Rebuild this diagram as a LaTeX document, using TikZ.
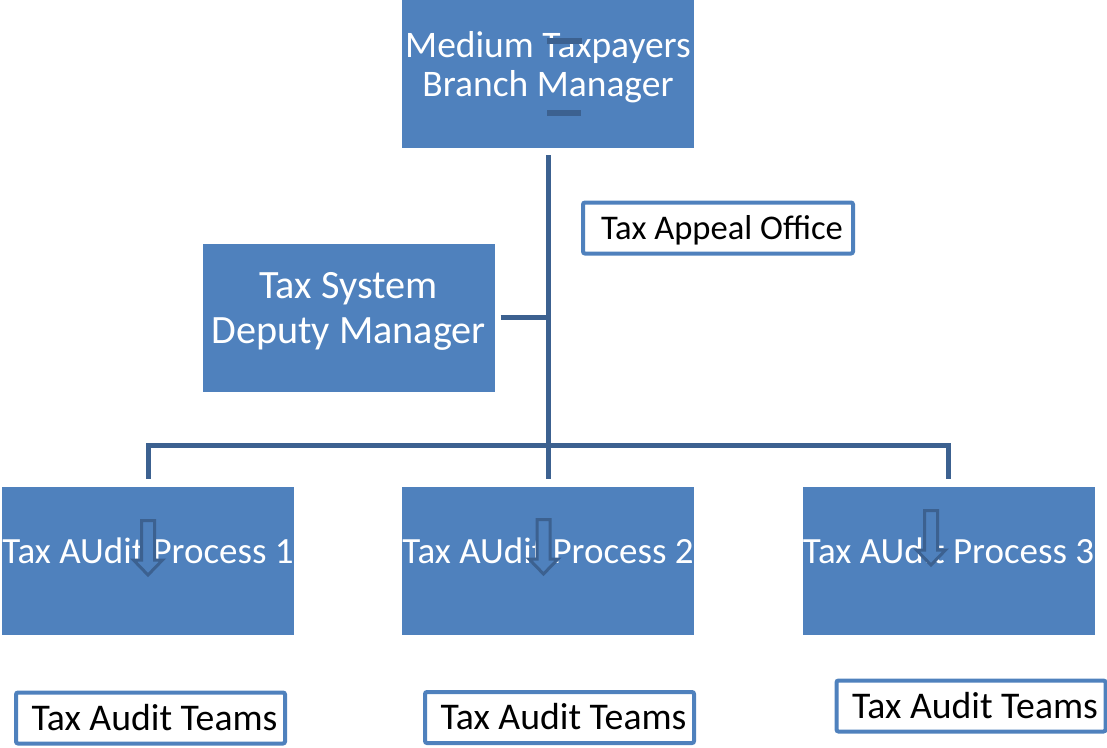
\documentclass[tikz,border=0pt]{standalone}
\usepackage{fontspec}
\setmainfont{Carlito}
\usetikzlibrary{calc}
\definecolor{boxblue}{HTML}{4F81BD}
\definecolor{linkblue}{HTML}{3C6190}

\begin{document}
\begin{tikzpicture}[x=1pt, y=-1pt,
    unit/.style={rectangle, fill=boxblue, minimum width=292pt, minimum height=148pt, inner sep=0pt,
        text=white, align=center, text depth=20pt},
    office/.style={rectangle, draw=boxblue, line width=4pt, rounded corners=2pt, fill=white,
        minimum width=269pt, minimum height=51pt, inner sep=0pt, text depth=2pt,
        execute at begin node={\hspace*{8pt}}, font=\fontsize{37.7}{40}\selectfont},
    link/.style={draw=linkblue, line width=5pt},
    downarrow/.style={draw=linkblue, fill=boxblue, line width=3pt, line join=miter}]
    \useasboundingbox (0,0) rectangle (1107,747);

    % managers
    \node[unit, font=\fontsize{37.5}{39}\selectfont] (branch) at (548,74) {Medium Taxpayers\\Branch Manager};
    \node[unit, font=\fontsize{40.2}{45}\selectfont] (deputy) at (348.5,317.5) {Tax System\\Deputy Manager};

    % audit processes
    \node[unit, font=\fontsize{37}{40}\selectfont] (audit1) at (148,561) {Tax AUdit Process 1};
    \node[unit, font=\fontsize{37}{40}\selectfont] (audit2) at (548,561) {Tax AUdit Process 2};
    \node[unit, font=\fontsize{37}{40}\selectfont] (audit3) at (948.5,561) {Tax AUdit Process 3};

    % offices and teams
    \node[office, minimum width=270pt, text depth=1pt, font=\fontsize{34.6}{40}\selectfont] (appeal) at (718,228) {Tax Appeal Office};
    \node[office] (teams1) at (150.5,718) {Tax Audit Teams};
    \node[office] (teams2) at (559.5,717.5) {Tax Audit Teams};
    \node[office] (teams3) at (971,706) {Tax Audit Teams};

    % tree lines
    \draw[link] ([yshift=-7pt]branch.south) -- ([yshift=8pt]audit2.north);
    \draw[link] ([xshift=6pt]deputy.east) -- (deputy.east -| branch.south);
    \draw[link] ([yshift=8pt]audit1.north) |- ([yshift=41pt]audit2.north) -| ([yshift=8pt]audit3.north);

    % stray marks on the top box
    \draw[link, line width=6pt] (547,41) -- (582,41);
    \draw[link, line width=6pt] (547,113) -- (581,113);

    % block arrows
    \foreach \cx/\ty in {148/519, 543.5/518, 931/509}
        \draw[downarrow] ({\cx-6.5},{\ty+1.5}) -- ({\cx+6.5},{\ty+1.5}) -- ({\cx+6.5},{\ty+41})
            -- ({\cx+14.5},{\ty+41}) -- (\cx,{\ty+56}) -- ({\cx-14.5},{\ty+41})
            -- ({\cx-6.5},{\ty+41}) -- cycle;
\end{tikzpicture}
\end{document}
